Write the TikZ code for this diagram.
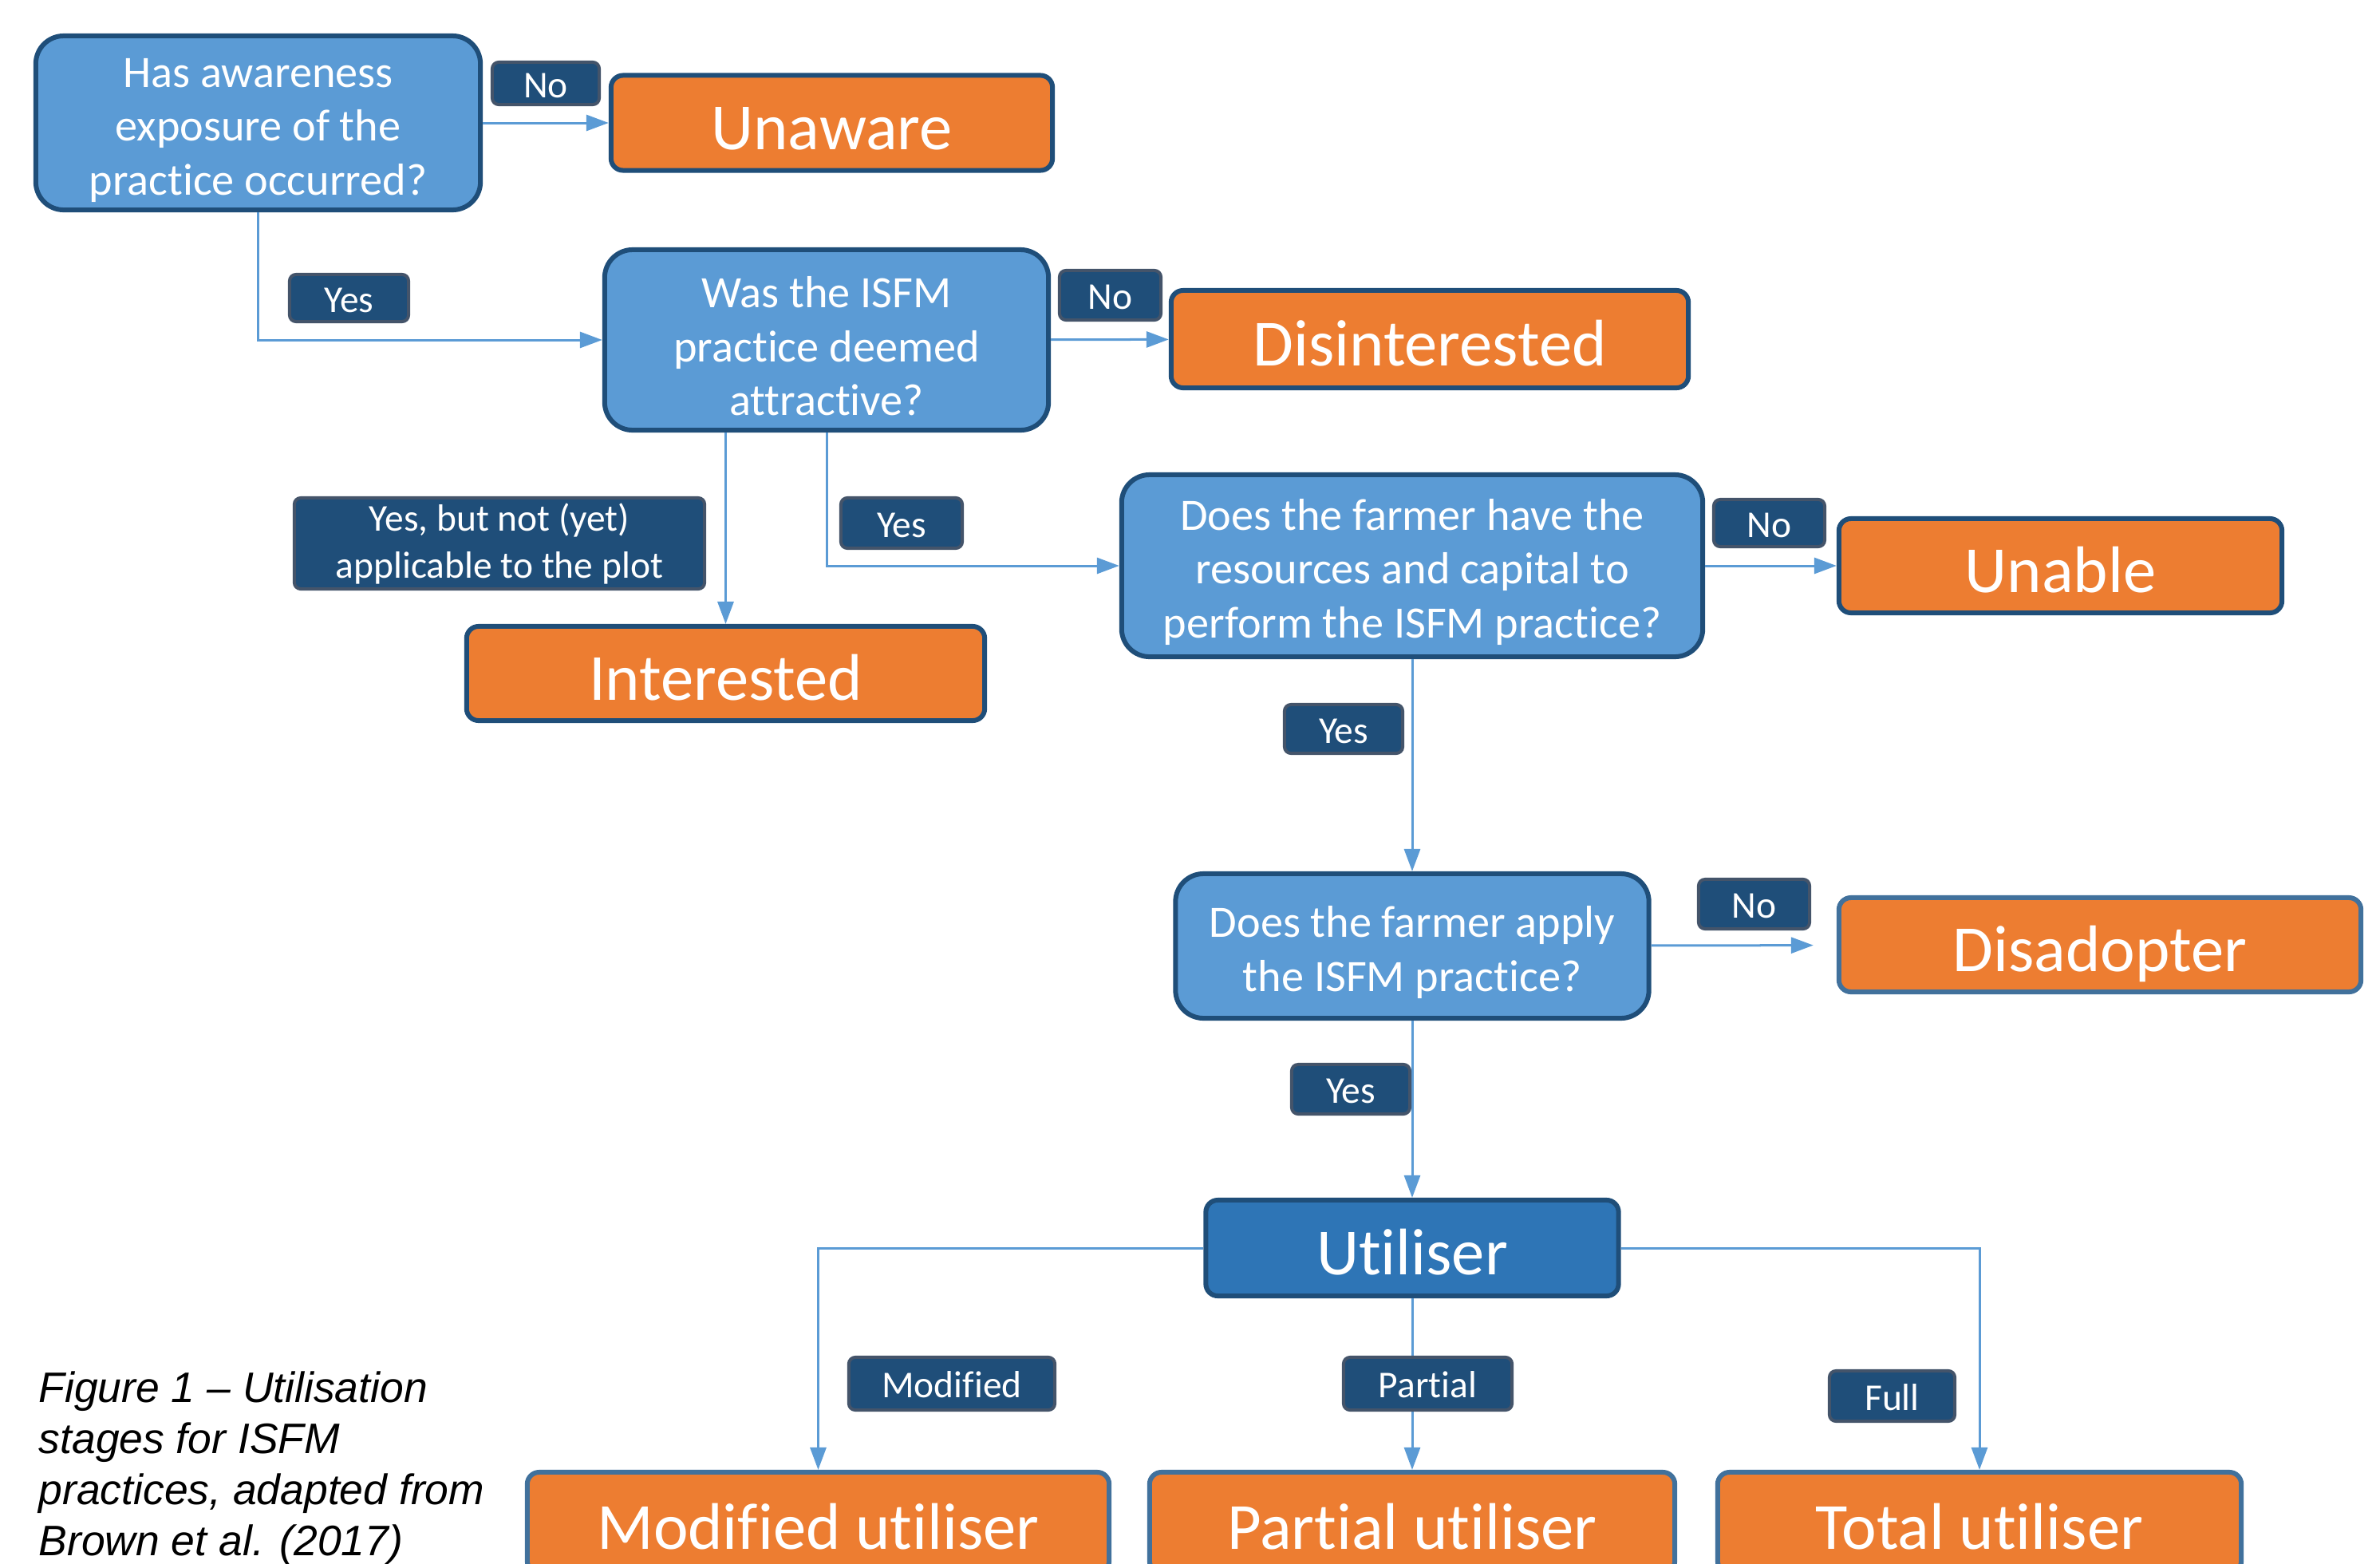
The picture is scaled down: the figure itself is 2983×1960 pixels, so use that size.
\documentclass[tikz,border=0pt]{standalone}
\usepackage{fontspec}
\setmainfont{Carlito}[Ligatures={NoCommon}]
\newfontfamily\capfont{Liberation Sans}
\usetikzlibrary{arrows.meta}
\definecolor{qblue}{HTML}{5B9BD5}
\definecolor{dkblue}{HTML}{1F4E79}
\definecolor{midblue}{HTML}{2E75B6}
\definecolor{edgeblue}{HTML}{41719C}
\definecolor{orng}{HTML}{ED7D31}
\definecolor{lblgray}{HTML}{44546A}
\newcommand{\qstrut}{\rule{0pt}{15.6pt}}

\begin{document}
\begin{tikzpicture}[x=0.01cm,y=-0.01cm,
        question/.style={draw=dkblue,fill=qblue,line width=0.06cm,rounded corners=0.35cm,text=white,align=center,inner sep=0pt,font=\fontsize{16}{19.2}\selectfont},
        outcome/.style={draw=dkblue,fill=orng,line width=0.06cm,rounded corners=0.15cm,text=white,inner sep=0pt,minimum height=1.19cm,text height=19pt,text depth=0pt,font=\fontsize{23.5}{28}\selectfont},
        answer/.style={draw=lblgray,fill=dkblue,line width=0.04cm,rounded corners=0.08cm,text=white,align=center,inner sep=0pt,text height=10pt,text depth=0pt,font=\fontsize{13.5}{16.8}\selectfont},
        link/.style={draw=qblue,line width=0.03cm,-{Triangle[length=0.28cm,width=0.2cm]}}]

    \useasboundingbox (0,0) rectangle (2983,1960);

    \node[question,minimum width=5.57cm,minimum height=2.18cm] (q1) at (323.5,154) {\qstrut Has awareness\\exposure of the\\practice occurred?};
    \node[outcome,minimum width=5.53cm] (unaware) at (1042.5,154) {Unaware};
    \node[question,minimum width=5.56cm,minimum height=2.26cm] (q2) at (1036,426) {\qstrut Was the ISFM\\practice deemed\\attractive?};
    \node[outcome,minimum width=6.48cm,minimum height=1.22cm] (disint) at (1792,425) {Disinterested};
    \node[question,minimum width=7.28cm,minimum height=2.28cm] (q3) at (1770,709) {\qstrut Does the farmer have the\\resources and capital to\\perform the ISFM practice?};
    \node[outcome,minimum width=5.55cm,minimum height=1.18cm] (unable) at (2582.5,709) {Unable};
    \node[outcome,minimum width=6.49cm,minimum height=1.18cm] (interested) at (909.5,844) {Interested};
    \node[question,minimum width=5.93cm,minimum height=1.81cm] (q4) at (1770,1185.5) {\qstrut Does the farmer apply\\the ISFM practice?};
    \node[outcome,draw=edgeblue,minimum width=6.54cm,minimum height=1.18cm] (disadopter) at (2632,1184) {Disadopter};
    \node[outcome,draw=dkblue,fill=midblue,minimum width=5.17cm,minimum height=1.2cm] (util) at (1770,1564) {Utiliser};
    \node[outcome,draw=edgeblue,minimum width=7.29cm,minimum height=1.26cm] (modutil) at (1025.5,1908) {Modified utiliser};
    \node[outcome,draw=edgeblue,minimum width=6.58cm,minimum height=1.26cm] (partutil) at (1770,1908) {Partial utiliser};
    \node[outcome,draw=edgeblue,minimum width=6.56cm,minimum height=1.26cm] (totutil) at (2481,1908) {Total utiliser};

    \draw[link] (q1) -- (unaware);
    \draw[link] (q1.south) |- (q2.west);
    \draw[link] (q2) -- (disint);
    \draw[link] (q2.south) |- (q3.west);
    \draw[link] (q2.south -| interested.north) -- (interested.north);
    \draw[link] (q3) -- (unable);
    \draw[link] (q3) -- (q4);
    \draw[link,shorten >=0.29cm] (q4) -- (disadopter);
    \draw[link] (q4) -- (util);
    \draw[link] (util.west) -| (modutil.north);
    \draw[link] (util) -- (partutil);
    \draw[link] (util.east) -| (totutil.north);

    \node[answer,minimum width=1.34cm,minimum height=0.53cm] (no1) at (684,104.5) {No};
    \node[answer,minimum width=1.49cm,minimum height=0.59cm] (yes1) at (437.5,373.5) {Yes};
    \node[answer,minimum width=1.27cm,minimum height=0.62cm] (no2) at (1391.5,370) {No};
    \node[answer,text height={},text depth={},minimum width=5.14cm,minimum height=1.14cm] (yesbut) at (626,681) {Yes, but not (yet)\\applicable to the plot};
    \node[answer,minimum width=1.52cm,minimum height=0.63cm] (yes2) at (1130,655.5) {Yes};
    \node[answer,minimum width=1.39cm,minimum height=0.59cm] (no3) at (2217.5,655.5) {No};
    \node[answer,minimum width=1.48cm,minimum height=0.61cm] (yes3) at (1684,913.5) {Yes};
    \node[answer,minimum width=1.39cm,minimum height=0.62cm] (no4) at (2198.5,1133) {No};
    \node[answer,minimum width=1.48cm,minimum height=0.62cm] (yes4) at (1693,1365) {Yes};
    \node[answer,minimum width=2.58cm,minimum height=0.66cm] (modlab) at (1193,1734) {Modified};
    \node[answer,minimum width=2.11cm,minimum height=0.66cm] (partlab) at (1789.5,1734) {Partial};
    \node[answer,minimum width=1.57cm,minimum height=0.63cm] (fulllab) at (2371.5,1749.5) {Full};

    \node[anchor=west,align=left,inner sep=0pt,font=\capfont\itshape\fontsize{15.2}{18.2}\selectfont] (caption) at (48,1840) {Figure 1 – Utilisation\\stages for ISFM\\practices, adapted from\\Brown et al. (2017)};
\end{tikzpicture}
\end{document}
